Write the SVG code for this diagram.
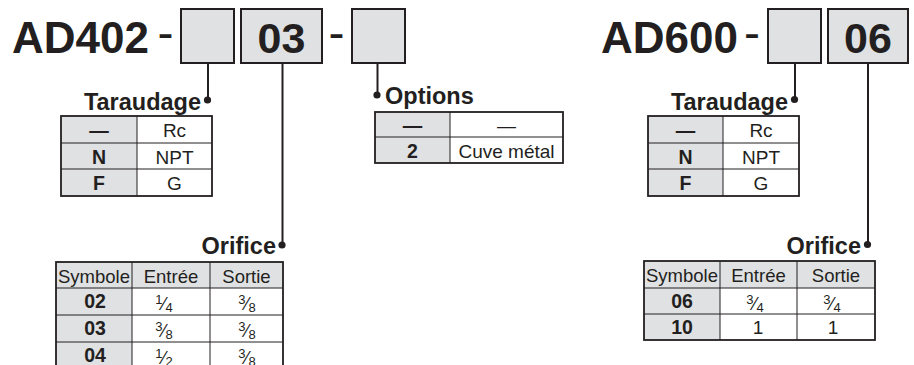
<svg xmlns="http://www.w3.org/2000/svg" width="914" height="365" viewBox="0 0 914 365">
<style>
text{font-family:"Liberation Sans",Arial,sans-serif;fill:#231f20}
.title{font-size:44px;font-weight:bold}
.code{font-size:43px;font-weight:bold;text-anchor:middle}
.dash{font-size:48px;text-anchor:middle}
.box{fill:#e0e1e3;stroke:#231f20;stroke-width:2}
.lbl{font-size:23.5px;font-weight:bold}
.c{font-size:19px;text-anchor:middle}
.b{font-weight:bold;font-size:19.5px}
.h{font-size:18.5px;text-anchor:middle}
.sm{font-size:13px}
.sl{font-size:18px}
.gray{fill:#e0e1e3}
.white{fill:#ffffff}
.outer{fill:none;stroke:#231f20;stroke-width:1.8}
.inner{stroke:#231f20;stroke-width:1;fill:none}
.conn line{stroke:#231f20;stroke-width:2}
.conn circle{fill:#231f20}
</style>

<g id="title-ad402">
<text class="title" x="12" y="53">AD402</text>
<text class="dash" x="165.5" y="49">-</text>
<text class="dash" x="336.5" y="49">-</text>
</g>
<g id="box-taraudage-left"><rect class="box" x="181" y="9" width="53" height="54"/></g>
<g id="box-orifice-left"><rect class="box" x="241" y="9" width="81" height="54"/><text class="code" x="281.5" y="53">03</text></g>
<g id="box-options"><rect class="box" x="352" y="9" width="53" height="54"/></g>

<g id="title-ad600">
<text class="title" x="601" y="53">AD600</text>
<text class="dash" x="752" y="49">-</text>
</g>
<g id="box-taraudage-right"><rect class="box" x="768" y="9" width="53" height="54"/></g>
<g id="box-orifice-right"><rect class="box" x="828" y="9" width="80" height="54"/><text class="code" x="868" y="53">06</text></g>

<g id="connectors" class="conn">
<line x1="208" y1="63" x2="208" y2="100"/><circle cx="207.5" cy="100" r="3.6"/>
<line x1="282.5" y1="63" x2="282.5" y2="245"/><circle cx="282" cy="245" r="3.6"/>
<line x1="377.5" y1="63" x2="377.5" y2="95"/><circle cx="377" cy="95" r="3.6"/>
<line x1="795" y1="63" x2="795" y2="99"/><circle cx="794.5" cy="99.5" r="3.6"/>
<line x1="868" y1="63" x2="868" y2="244"/><circle cx="867.5" cy="244.5" r="3.6"/>
</g>

<g id="table-taraudage-left">
<text class="lbl" x="201" y="110" text-anchor="end">Taraudage</text>
<rect class="white" x="61" y="116" width="151" height="80"/>
<rect class="gray" x="61" y="116" width="76" height="80"/>
<line class="inner" x1="137" y1="116" x2="137" y2="196"/>
<line class="inner" x1="61" y1="143" x2="212" y2="143"/>
<line class="inner" x1="61" y1="169" x2="212" y2="169"/>
<rect class="outer" x="61" y="116" width="151" height="80"/>
<text class="c b" x="99" y="137">—</text><text class="c" x="174.5" y="137">Rc</text>
<text class="c b" x="99" y="164">N</text><text class="c" x="174.5" y="164">NPT</text>
<text class="c b" x="99" y="190">F</text><text class="c" x="174.5" y="190">G</text>
</g>

<g id="table-options">
<text class="lbl" x="385" y="104">Options</text>
<rect class="white" x="375" y="112" width="188" height="51"/>
<rect class="gray" x="375" y="112" width="75" height="51"/>
<line class="inner" x1="450" y1="112" x2="450" y2="163"/>
<line class="inner" x1="375" y1="137" x2="563" y2="137"/>
<rect class="outer" x="375" y="112" width="188" height="51"/>
<text class="c b" x="412.5" y="132">—</text><text class="c" x="506.5" y="132">—</text>
<text class="c b" x="412.5" y="158">2</text><text class="c" x="506.5" y="158">Cuve métal</text>
</g>

<g id="table-orifice-left">
<text class="lbl" x="276" y="254" text-anchor="end">Orifice</text>
<rect class="white" x="56" y="262" width="227" height="107"/>
<rect class="gray" x="56" y="262" width="227" height="26"/>
<rect class="gray" x="56" y="262" width="76" height="107"/>
<line class="inner" x1="132" y1="262" x2="132" y2="369"/>
<line class="inner" x1="210" y1="262" x2="210" y2="369"/>
<line class="inner" x1="56" y1="288" x2="283" y2="288"/>
<line class="inner" x1="56" y1="315" x2="283" y2="315"/>
<line class="inner" x1="56" y1="342" x2="283" y2="342"/>
<rect class="outer" x="56" y="262" width="227" height="107"/>
<text class="h" x="94" y="283">Symbole</text><text class="h" x="171" y="283">Entrée</text><text class="h" x="246.5" y="283">Sortie</text>
<text class="c b" x="95" y="308">02</text>
<text class="c" x="164" y="304"><tspan class="sm">1</tspan><tspan class="sl" dy="6">⁄</tspan><tspan class="sm" dy="2">4</tspan></text>
<text class="c" x="247" y="304"><tspan class="sm">3</tspan><tspan class="sl" dy="6">⁄</tspan><tspan class="sm" dy="2">8</tspan></text>
<text class="c b" x="95" y="335">03</text>
<text class="c" x="164" y="331"><tspan class="sm">3</tspan><tspan class="sl" dy="6">⁄</tspan><tspan class="sm" dy="2">8</tspan></text>
<text class="c" x="247" y="331"><tspan class="sm">3</tspan><tspan class="sl" dy="6">⁄</tspan><tspan class="sm" dy="2">8</tspan></text>
<text class="c b" x="95" y="362">04</text>
<text class="c" x="164" y="358"><tspan class="sm">1</tspan><tspan class="sl" dy="6">⁄</tspan><tspan class="sm" dy="2">2</tspan></text>
<text class="c" x="247" y="358"><tspan class="sm">3</tspan><tspan class="sl" dy="6">⁄</tspan><tspan class="sm" dy="2">8</tspan></text>
</g>

<g id="table-taraudage-right">
<text class="lbl" x="788" y="110" text-anchor="end">Taraudage</text>
<rect class="white" x="648" y="116" width="151" height="80"/>
<rect class="gray" x="648" y="116" width="75" height="80"/>
<line class="inner" x1="723" y1="116" x2="723" y2="196"/>
<line class="inner" x1="648" y1="143" x2="799" y2="143"/>
<line class="inner" x1="648" y1="169" x2="799" y2="169"/>
<rect class="outer" x="648" y="116" width="151" height="80"/>
<text class="c b" x="685.5" y="137">—</text><text class="c" x="761" y="137">Rc</text>
<text class="c b" x="685.5" y="164">N</text><text class="c" x="761" y="164">NPT</text>
<text class="c b" x="685.5" y="190">F</text><text class="c" x="761" y="190">G</text>
</g>

<g id="table-orifice-right">
<text class="lbl" x="861" y="254" text-anchor="end">Orifice</text>
<rect class="white" x="644" y="261" width="231" height="79"/>
<rect class="gray" x="644" y="261" width="231" height="27"/>
<rect class="gray" x="644" y="261" width="76" height="79"/>
<line class="inner" x1="720" y1="261" x2="720" y2="340"/>
<line class="inner" x1="797" y1="261" x2="797" y2="340"/>
<line class="inner" x1="644" y1="288" x2="875" y2="288"/>
<line class="inner" x1="644" y1="314" x2="875" y2="314"/>
<rect class="outer" x="644" y="261" width="231" height="79"/>
<text class="h" x="682" y="282">Symbole</text><text class="h" x="758.5" y="282">Entrée</text><text class="h" x="836" y="282">Sortie</text>
<text class="c b" x="682" y="308">06</text>
<text class="c" x="755" y="304"><tspan class="sm">3</tspan><tspan class="sl" dy="6">⁄</tspan><tspan class="sm" dy="2">4</tspan></text>
<text class="c" x="832" y="304"><tspan class="sm">3</tspan><tspan class="sl" dy="6">⁄</tspan><tspan class="sm" dy="2">4</tspan></text>
<text class="c b" x="682" y="334">10</text>
<text class="c" x="758" y="334">1</text>
<text class="c" x="833" y="334">1</text>
</g>
</svg>
